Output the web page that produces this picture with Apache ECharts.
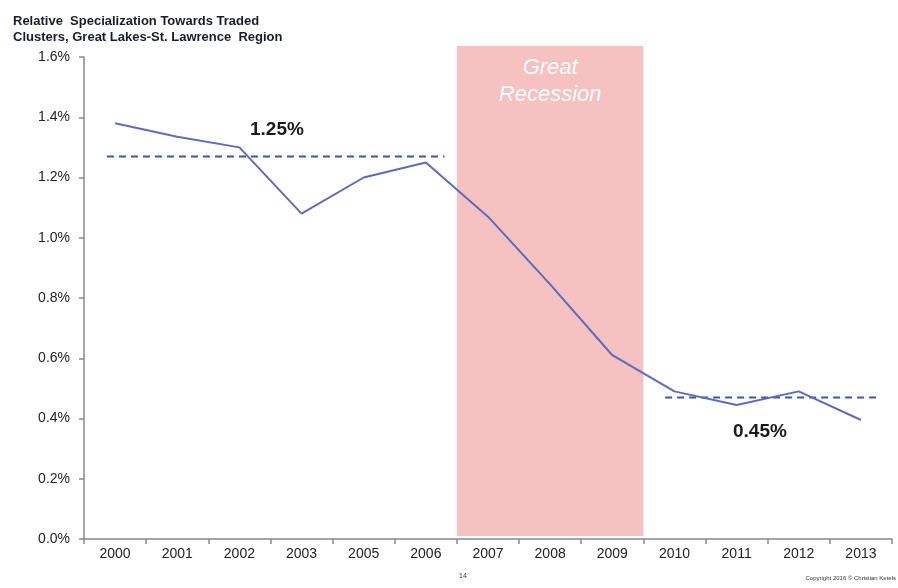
<!DOCTYPE html>
<html>
<head>
<meta charset="utf-8">
<script src="https://cdn.jsdelivr.net/npm/echarts@6/dist/echarts.min.js"></script>
<style>
  html, body { margin: 0; padding: 0; background: #fff; }
  #chart { width: 898px; height: 588px; }
</style>
</head>
<body>
<div id="chart"></div>
<script>
  // data
  const years = ['2000', '2001', '2002', '2003', '2005', '2006', '2007', '2008', '2009', '2010', '2011', '2012', '2013']
  const specialization = [1.38, 1.335, 1.30, 1.08, 1.20, 1.25, 1.07, 0.845, 0.61, 0.49, 0.445, 0.49, 0.395]
  const avgBefore = [[-0.13, 1.27], [5.3, 1.27]]
  const avgAfter = [[8.85, 0.47], [12.3, 0.47]]
  const recession = [5.5, 8.5]

  const myChart = echarts.init(document.getElementById('chart'))
  const font = 'Liberation Sans, Arial, sans-serif'
  const lineColor = '#5b6cbf'

  const option = {
    animation: false,
    textStyle: { fontFamily: font },
    title: {
      text: 'Relative  Specialization Towards Traded\nClusters, Great Lakes-St. Lawrence  Region',
      left: 8,
      top: 8,
      textStyle: { fontSize: 13, fontWeight: 'bold', color: '#1a1a2e', lineHeight: 16, fontFamily: font }
    },
    grid: [
      { left: 84, right: 6, top: 57, bottom: 49 },
      { left: 84, right: 6, top: 46, bottom: 52 }
    ],
    xAxis: [
      {
        type: 'category',
        gridIndex: 0,
        data: years,
        boundaryGap: true,
        axisLine: { lineStyle: { color: '#888', width: 1.5 } },
        axisTick: { show: true, length: 5, lineStyle: { color: '#888', width: 1.5 } },
        axisLabel: { color: '#222', fontSize: 14, margin: 8 },
        splitLine: { show: false }
      },
      {
        type: 'value', gridIndex: 0, min: -0.5, max: 12.5, show: false
      },
      {
        type: 'value', gridIndex: 1, min: -0.5, max: 12.5, show: false
      }
    ],
    yAxis: [
      {
        type: 'value',
        gridIndex: 0,
        min: 0,
        max: 1.6,
        interval: 0.2,
        axisLine: { show: true, onZero: false, lineStyle: { color: '#888', width: 1.5 } },
        axisTick: { show: true, length: 5, lineStyle: { color: '#888', width: 1.5 } },
        axisLabel: {
          color: '#222', fontSize: 14, margin: 14,
          formatter: v => v.toFixed(1) + '%'
        },
        splitLine: { show: false }
      },
      {
        type: 'value', gridIndex: 1, min: 0, max: 1, show: false
      }
    ],
    series: [
      {
        name: 'band',
        type: 'line',
        xAxisIndex: 2,
        yAxisIndex: 1,
        data: [],
        silent: true,
        z: 1,
        markArea: {
          silent: true,
          itemStyle: { color: '#f6c1c1' },
          label: {
            show: true,
            position: 'insideTop',
            distance: 8,
            formatter: 'Great\nRecession',
            color: '#fff',
            fontSize: 22,
            fontStyle: 'italic',
            lineHeight: 27,
            fontFamily: font
          },
          data: [[{ coord: [recession[0], 0] }, { coord: [recession[1], 1] }]]
        }
      },
      {
        name: 'specialization',
        type: 'line',
        xAxisIndex: 0,
        yAxisIndex: 0,
        data: specialization,
        symbol: 'none',
        z: 5,
        lineStyle: { color: lineColor, width: 2 }
      },
      {
        name: 'avg1',
        type: 'line',
        xAxisIndex: 1,
        yAxisIndex: 0,
        data: avgBefore,
        symbol: 'none',
        z: 4,
        lineStyle: { color: '#3f55a8', width: 2, type: [7, 5] }
      },
      {
        name: 'avg2',
        type: 'line',
        xAxisIndex: 1,
        yAxisIndex: 0,
        data: avgAfter,
        symbol: 'none',
        z: 4,
        lineStyle: { color: '#3f55a8', width: 2, type: [7, 5] }
      }
    ],
    graphic: [
      { type: 'text', left: 250, top: 120, style: { text: '1.25%', font: 'bold 19px ' + font, fill: '#1a1a1a' } },
      { type: 'text', left: 733, top: 422, style: { text: '0.45%', font: 'bold 19px ' + font, fill: '#1a1a1a' } },
      { type: 'text', left: 459, top: 573, style: { text: '14', font: '7px ' + font, fill: '#333' } },
      { type: 'text', right: 2, top: 575, style: { text: 'Copyright 2016 © Christian Ketels', font: '6px ' + font, fill: '#333' } }
    ]
  }
  myChart.setOption(option)
  window.addEventListener('resize', () => { myChart.resize() })
</script>
</body>
</html>
